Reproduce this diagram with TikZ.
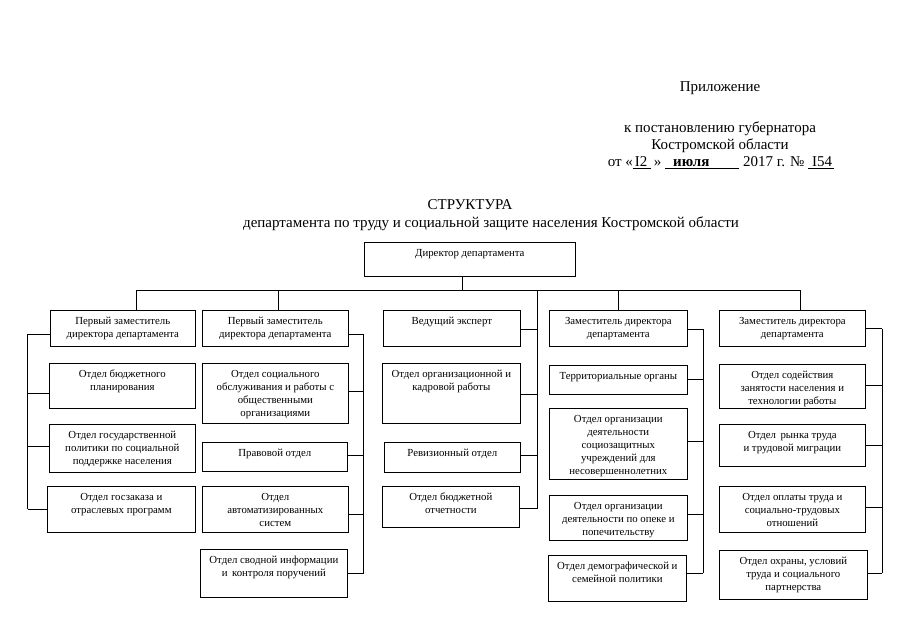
\documentclass[tikz,border=0pt]{standalone}
\usepackage{fontspec}
\setmainfont{Liberation Serif}
\setmonofont{Liberation Mono}
\newcommand{\boxtext}[3]{\parbox[c][#2pt][t]{#1pt}{\centering\rule{0pt}{14.5pt}#3}}

\begin{document}
\begin{tikzpicture}[x=1pt, y=-1pt, every node/.style={inner sep=0pt},
	box/.style={draw, anchor=north west, line width=0.7pt, font=\fontsize{10.8}{12.8}\selectfont},
	link/.style={line width=0.7pt},
	head/.style={font=\fontsize{15}{17}\selectfont}]
	\fill[white] (0,0) rectangle (905,640);

	\node[head] (app) at (720,88) {Приложение};
	\node[head] (dec) at (720,129) {к постановлению губернатора};
	\node[head] (reg) at (720,146) {Костромской области};
	\node[head] (date) at (721,163) {от «\underline{\hspace{2pt}I2\hspace{4pt}}\,» \underline{\hspace{8pt}\textbf{июля}\hspace{30pt}} 2017 г. № \underline{\hspace{4pt}I54\hspace{2pt}}};
	\node[head] (title) at (470,205) {СТРУКТУРА};
	\node[head] (sub) at (491,224) {департамента по труду и социальной защите населения Костромской области};

	\node[box] (dir) at (364,242) {\boxtext{211}{34}{Директор департамента}};

	\node[box] (fd1) at (50,310) {\boxtext{145}{36}{Первый заместитель\\директора департамента}};
	\node[box] (b11) at (49,363) {\boxtext{146}{45}{Отдел бюджетного\\планирования}};
	\node[box] (b12) at (49,424) {\boxtext{146}{48}{Отдел государственной\\политики по социальной\\поддержке населения}};
	\node[box] (b13) at (47,486) {\boxtext{148}{46}{Отдел госзаказа и\\отраслевых программ}};

	\node[box] (fd2) at (202,310) {\boxtext{146}{36}{Первый заместитель\\директора департамента}};
	\node[box] (b21) at (202,363) {\boxtext{146}{60}{Отдел социального\\обслуживания и работы с\\общественными\\организациями}};
	\node[box] (b22) at (202,442) {\boxtext{145}{29}{Правовой отдел}};
	\node[box] (b23) at (202,486) {\boxtext{146}{46}{Отдел\\автоматизированных\\систем}};
	\node[box] (b24) at (200,549) {\boxtext{147}{48}{Отдел сводной информации\\и\, контроля поручений}};

	\node[box] (ve) at (383,310) {\boxtext{137}{36}{Ведущий эксперт}};
	\node[box] (b31) at (382,363) {\boxtext{138}{60}{Отдел организационной и\\кадровой работы}};
	\node[box] (b32) at (384,442) {\boxtext{136}{30}{Ревизионный отдел}};
	\node[box] (b33) at (382,486) {\boxtext{137}{41}{Отдел бюджетной\\отчетности}};

	\node[box] (z1) at (549,310) {\boxtext{138}{36}{Заместитель директора\\департамента}};
	\node[box] (b41) at (549,365) {\boxtext{138}{29}{Территориальные органы}};
	\node[box] (b42) at (549,408) {\boxtext{138}{71}{Отдел организации\\деятельности\\социозащитных\\учреждений для\\несовершеннолетних}};
	\node[box] (b43) at (549,495) {\boxtext{138}{45}{Отдел организации\\деятельности по опеке и\\попечительству}};
	\node[box] (b44) at (548,555) {\boxtext{138}{46}{Отдел демографической и\\семейной политики}};

	\node[box] (z2) at (719,310) {\boxtext{146}{36}{Заместитель директора\\департамента}};
	\node[box] (b51) at (719,364) {\boxtext{146}{44}{Отдел содействия\\занятости населения и\\технологии работы}};
	\node[box] (b52) at (719,424) {\boxtext{146}{42}{Отдел\, рынка труда\\и трудовой миграции}};
	\node[box] (b53) at (719,486) {\boxtext{146}{46}{Отдел оплаты труда и\\социально-трудовых\\отношений}};
	\node[box] (b54) at (719,550) {\boxtext{148}{49}{Отдел охраны, условий\\труда и социального\\партнерства}};

	\coordinate (busd) at (462,290);
	\coordinate (bus1) at (136,290);
	\coordinate (bus2) at (278,290);
	\coordinate (bus3) at (537.5,290);
	\coordinate (bus4) at (618,290);
	\coordinate (bus5) at (800,290);

	\draw[link] (dir.south -| busd) -- (busd);
	\draw[link] (bus1) -- (bus5);
	\draw[link] (bus1) -- (bus1 |- fd1.north);
	\draw[link] (bus2) -- (bus2 |- fd2.north);
	\draw[link] (bus4) -- (bus4 |- z1.north);
	\draw[link] (bus5) -- (bus5 |- z2.north);

	\foreach \n/\y [count=\i] in {fd1/334, b11/393, b12/446, b13/509} {
		\coordinate (a\i) at (27.5,\y);
		\draw[link] (\n.west |- a\i) -- (a\i);
	}
	\draw[link] (a1) -- (a4);

	\foreach \n/\y [count=\i] in {fd2/334.5, b21/391, b22/455, b23/514, b24/573} {
		\coordinate (c\i) at (363.5,\y);
		\draw[link] (\n.east |- c\i) -- (c\i);
	}
	\draw[link] (c1) -- (c5);

	\foreach \n/\y [count=\i] in {ve/329.5, b31/394, b32/455.5, b33/508} {
		\coordinate (e\i) at (537.5,\y);
		\draw[link] (\n.east |- e\i) -- (e\i);
	}
	\draw[link] (bus3) -- (e4);

	\foreach \n/\y [count=\i] in {z1/329, b41/379.5, b42/441.5, b43/514, b44/573} {
		\coordinate (g\i) at (703,\y);
		\draw[link] (\n.east |- g\i) -- (g\i);
	}
	\draw[link] (g1) -- (g5);

	\foreach \n/\y [count=\i] in {z2/328.5, b51/385, b52/445.5, b53/507, b54/573} {
		\coordinate (h\i) at (882,\y);
		\draw[link] (\n.east |- h\i) -- (h\i);
	}
	\draw[link] (h1) -- (h5);
\end{tikzpicture}
\end{document}
